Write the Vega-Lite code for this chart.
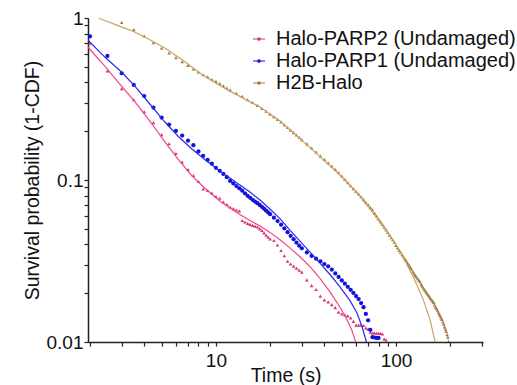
{
"$schema": "https://vega.github.io/schema/vega-lite/v6.json",
"width": 395, "height": 324,
"autosize": {"type": "none"},
"padding": {"left": 88, "top": 18, "right": 34, "bottom": 43},
"background": "white",
"config": {
  "font": "Liberation Sans",
  "view": {"stroke": null},
  "axis": {"grid": false, "domainColor": "#222", "domainWidth": 1.5, "tickColor": "#222", "tickSize": 4, "tickWidth": 1.2, "labelFont": "Liberation Sans", "labelFontSize": 19, "labelColor": "#111", "titleFont": "Liberation Sans", "titleFontSize": 19.5, "titleFontWeight": "normal", "titleColor": "#111", "labelOverlap": false}
},
"datasets": {
"fit": [
{"s":"Halo-PARP1 (Undamaged)","t":1.945,"y":0.731},{"s":"Halo-PARP1 (Undamaged)","t":2.417,"y":0.574},{"s":"Halo-PARP1 (Undamaged)","t":2.993,"y":0.464},{"s":"Halo-PARP1 (Undamaged)","t":3.548,"y":0.380},{"s":"Halo-PARP1 (Undamaged)","t":4.393,"y":0.2863},{"s":"Halo-PARP1 (Undamaged)","t":5.209,"y":0.228},{"s":"Halo-PARP1 (Undamaged)","t":6.151,"y":0.187},{"s":"Halo-PARP1 (Undamaged)","t":7.356,"y":0.1553},{"s":"Halo-PARP1 (Undamaged)","t":8.878,"y":0.1310},{"s":"Halo-PARP1 (Undamaged)","t":10.52,"y":0.1137},{"s":"Halo-PARP1 (Undamaged)","t":11.96,"y":0.1029},{"s":"Halo-PARP1 (Undamaged)","t":13.59,"y":0.0931},{"s":"Halo-PARP1 (Undamaged)","t":15.45,"y":0.0843},{"s":"Halo-PARP1 (Undamaged)","t":17.56,"y":0.0752},{"s":"Halo-PARP1 (Undamaged)","t":19.95,"y":0.0662},{"s":"Halo-PARP1 (Undamaged)","t":22.68,"y":0.0578},{"s":"Halo-PARP1 (Undamaged)","t":25.77,"y":0.0491},{"s":"Halo-PARP1 (Undamaged)","t":29.29,"y":0.0420},{"s":"Halo-PARP1 (Undamaged)","t":33.29,"y":0.0359},{"s":"Halo-PARP1 (Undamaged)","t":37.83,"y":0.0307},{"s":"Halo-PARP1 (Undamaged)","t":42.99,"y":0.0261},{"s":"Halo-PARP1 (Undamaged)","t":48.86,"y":0.0219},{"s":"Halo-PARP1 (Undamaged)","t":55.53,"y":0.0180},{"s":"Halo-PARP1 (Undamaged)","t":60.72,"y":0.0151},{"s":"Halo-PARP1 (Undamaged)","t":64.72,"y":0.01246},{"s":"Halo-PARP1 (Undamaged)","t":68.13,"y":0.01022},{"s":"Halo-PARP1 (Undamaged)","t":69.45,"y":0.00945},
{"s":"Halo-PARP2 (Undamaged)","t":1.945,"y":0.662},{"s":"Halo-PARP2 (Undamaged)","t":2.417,"y":0.505},{"s":"Halo-PARP2 (Undamaged)","t":2.993,"y":0.380},{"s":"Halo-PARP2 (Undamaged)","t":3.548,"y":0.305},{"s":"Halo-PARP2 (Undamaged)","t":4.393,"y":0.224},{"s":"Halo-PARP2 (Undamaged)","t":5.209,"y":0.172},{"s":"Halo-PARP2 (Undamaged)","t":6.151,"y":0.135},{"s":"Halo-PARP2 (Undamaged)","t":7.356,"y":0.106},{"s":"Halo-PARP2 (Undamaged)","t":8.878,"y":0.0870},{"s":"Halo-PARP2 (Undamaged)","t":10.52,"y":0.0742},{"s":"Halo-PARP2 (Undamaged)","t":11.96,"y":0.0672},{"s":"Halo-PARP2 (Undamaged)","t":13.59,"y":0.0612},{"s":"Halo-PARP2 (Undamaged)","t":15.45,"y":0.0563},{"s":"Halo-PARP2 (Undamaged)","t":17.56,"y":0.0520},{"s":"Halo-PARP2 (Undamaged)","t":19.95,"y":0.0475},{"s":"Halo-PARP2 (Undamaged)","t":22.68,"y":0.0428},{"s":"Halo-PARP2 (Undamaged)","t":25.77,"y":0.0381},{"s":"Halo-PARP2 (Undamaged)","t":29.29,"y":0.0336},{"s":"Halo-PARP2 (Undamaged)","t":33.29,"y":0.0292},{"s":"Halo-PARP2 (Undamaged)","t":37.83,"y":0.0247},{"s":"Halo-PARP2 (Undamaged)","t":42.99,"y":0.0204},{"s":"Halo-PARP2 (Undamaged)","t":48.86,"y":0.0164},{"s":"Halo-PARP2 (Undamaged)","t":52.75,"y":0.0141},{"s":"Halo-PARP2 (Undamaged)","t":56.74,"y":0.0119},{"s":"Halo-PARP2 (Undamaged)","t":59.19,"y":0.0103},{"s":"Halo-PARP2 (Undamaged)","t":61.5,"y":0.00918},
{"s":"H2B-Halo","t":2.239,"y":0.9957},{"s":"H2B-Halo","t":2.966,"y":0.885},{"s":"H2B-Halo","t":3.472,"y":0.828},{"s":"H2B-Halo","t":4.299,"y":0.735},{"s":"H2B-Halo","t":5.323,"y":0.643},{"s":"H2B-Halo","t":6.556,"y":0.548},{"s":"H2B-Halo","t":8.149,"y":0.458},{"s":"H2B-Halo","t":10,"y":0.396},{"s":"H2B-Halo","t":12.48,"y":0.345},{"s":"H2B-Halo","t":17.56,"y":0.282},{"s":"H2B-Halo","t":22.68,"y":0.231},{"s":"H2B-Halo","t":29.29,"y":0.180},{"s":"H2B-Halo","t":37.83,"y":0.1395},{"s":"H2B-Halo","t":48.86,"y":0.1074},{"s":"H2B-Halo","t":63.10,"y":0.0796},{"s":"H2B-Halo","t":81.49,"y":0.0550},{"s":"H2B-Halo","t":96.23,"y":0.0426},{"s":"H2B-Halo","t":105.2,"y":0.0365},{"s":"H2B-Halo","t":124.8,"y":0.0252},{"s":"H2B-Halo","t":141.8,"y":0.0182},{"s":"H2B-Halo","t":154.5,"y":0.0137},{"s":"H2B-Halo","t":164.7,"y":0.01004},{"s":"H2B-Halo","t":169.0,"y":0.00893}
],
"pts": [
{"s":"H2B-Halo","t":3,"y":0.938},{"s":"H2B-Halo","t":3.5,"y":0.847},{"s":"H2B-Halo","t":4,"y":0.774},{"s":"H2B-Halo","t":4.5,"y":0.703},{"s":"H2B-Halo","t":5,"y":0.650},{"s":"H2B-Halo","t":5.5,"y":0.608},{"s":"H2B-Halo","t":6,"y":0.569},{"s":"H2B-Halo","t":6.5,"y":0.537},{"s":"H2B-Halo","t":7,"y":0.510},{"s":"H2B-Halo","t":7.5,"y":0.484},{"s":"H2B-Halo","t":8,"y":0.464},{"s":"H2B-Halo","t":8.5,"y":0.446},{"s":"H2B-Halo","t":9,"y":0.432},{"s":"H2B-Halo","t":9.5,"y":0.417},{"s":"H2B-Halo","t":10,"y":0.406},{"s":"H2B-Halo","t":10.5,"y":0.394},{"s":"H2B-Halo","t":11,"y":0.382},{"s":"H2B-Halo","t":11.5,"y":0.370},{"s":"H2B-Halo","t":12,"y":0.360},{"s":"H2B-Halo","t":13,"y":0.343},{"s":"H2B-Halo","t":14,"y":0.328},{"s":"H2B-Halo","t":15,"y":0.313},{"s":"H2B-Halo","t":16,"y":0.301},{"s":"H2B-Halo","t":17,"y":0.289},{"s":"H2B-Halo","t":18,"y":0.2767},{"s":"H2B-Halo","t":19,"y":0.2655},{"s":"H2B-Halo","t":20,"y":0.255},{"s":"H2B-Halo","t":21,"y":0.2455},{"s":"H2B-Halo","t":22,"y":0.2369},{"s":"H2B-Halo","t":23,"y":0.2283},{"s":"H2B-Halo","t":24,"y":0.2195},{"s":"H2B-Halo","t":25,"y":0.2109},{"s":"H2B-Halo","t":26,"y":0.2032},{"s":"H2B-Halo","t":27,"y":0.1962},{"s":"H2B-Halo","t":28,"y":0.1896},{"s":"H2B-Halo","t":29,"y":0.1835},{"s":"H2B-Halo","t":30,"y":0.1776},{"s":"H2B-Halo","t":32,"y":0.1670},{"s":"H2B-Halo","t":34,"y":0.1575},{"s":"H2B-Halo","t":36,"y":0.1489},{"s":"H2B-Halo","t":38,"y":0.1409},{"s":"H2B-Halo","t":40,"y":0.1340},{"s":"H2B-Halo","t":42,"y":0.1275},{"s":"H2B-Halo","t":44,"y":0.1220},{"s":"H2B-Halo","t":46,"y":0.1164},{"s":"H2B-Halo","t":48,"y":0.1110},{"s":"H2B-Halo","t":50,"y":0.1058},{"s":"H2B-Halo","t":52,"y":0.1009},{"s":"H2B-Halo","t":54,"y":0.0964},{"s":"H2B-Halo","t":56,"y":0.0922},{"s":"H2B-Halo","t":58,"y":0.0885},{"s":"H2B-Halo","t":60,"y":0.0850},{"s":"H2B-Halo","t":62,"y":0.0820},{"s":"H2B-Halo","t":64,"y":0.0788},{"s":"H2B-Halo","t":66,"y":0.0757},{"s":"H2B-Halo","t":68,"y":0.0729},{"s":"H2B-Halo","t":70,"y":0.0703},{"s":"H2B-Halo","t":72,"y":0.0678},{"s":"H2B-Halo","t":74,"y":0.0655},{"s":"H2B-Halo","t":76,"y":0.0625},{"s":"H2B-Halo","t":78,"y":0.0599},{"s":"H2B-Halo","t":80,"y":0.0573},{"s":"H2B-Halo","t":82,"y":0.0553},{"s":"H2B-Halo","t":84,"y":0.0532},{"s":"H2B-Halo","t":86,"y":0.0511},{"s":"H2B-Halo","t":88,"y":0.0494},{"s":"H2B-Halo","t":90,"y":0.0475},{"s":"H2B-Halo","t":92,"y":0.0457},{"s":"H2B-Halo","t":94,"y":0.0440},{"s":"H2B-Halo","t":96,"y":0.0428},{"s":"H2B-Halo","t":98,"y":0.0411},{"s":"H2B-Halo","t":100,"y":0.0395},{"s":"H2B-Halo","t":102,"y":0.0381},{"s":"H2B-Halo","t":104,"y":0.0368},{"s":"H2B-Halo","t":106,"y":0.0358},{"s":"H2B-Halo","t":108,"y":0.0346},{"s":"H2B-Halo","t":110,"y":0.0336},{"s":"H2B-Halo","t":112,"y":0.0326},{"s":"H2B-Halo","t":114,"y":0.0317},{"s":"H2B-Halo","t":116,"y":0.0307},{"s":"H2B-Halo","t":118,"y":0.0298},{"s":"H2B-Halo","t":120,"y":0.0289},{"s":"H2B-Halo","t":122,"y":0.0281},{"s":"H2B-Halo","t":124,"y":0.0272},{"s":"H2B-Halo","t":126,"y":0.0264},{"s":"H2B-Halo","t":128,"y":0.0258},{"s":"H2B-Halo","t":130,"y":0.0252},{"s":"H2B-Halo","t":132,"y":0.0246},{"s":"H2B-Halo","t":134,"y":0.0240},{"s":"H2B-Halo","t":136,"y":0.0235},{"s":"H2B-Halo","t":138,"y":0.0227},{"s":"H2B-Halo","t":140,"y":0.0221},{"s":"H2B-Halo","t":142,"y":0.0215},{"s":"H2B-Halo","t":144,"y":0.0210},{"s":"H2B-Halo","t":146,"y":0.0206},{"s":"H2B-Halo","t":148,"y":0.0201},{"s":"H2B-Halo","t":150,"y":0.0197},{"s":"H2B-Halo","t":152,"y":0.0193},{"s":"H2B-Halo","t":154,"y":0.0189},{"s":"H2B-Halo","t":156,"y":0.0185},{"s":"H2B-Halo","t":158,"y":0.0182},{"s":"H2B-Halo","t":160,"y":0.0178},{"s":"H2B-Halo","t":162,"y":0.0175},{"s":"H2B-Halo","t":164,"y":0.0169},{"s":"H2B-Halo","t":166,"y":0.0164},{"s":"H2B-Halo","t":168,"y":0.0161},{"s":"H2B-Halo","t":170,"y":0.0157},{"s":"H2B-Halo","t":172,"y":0.0152},{"s":"H2B-Halo","t":174,"y":0.0148},{"s":"H2B-Halo","t":176,"y":0.0145},{"s":"H2B-Halo","t":178,"y":0.0141},{"s":"H2B-Halo","t":180,"y":0.0138},{"s":"H2B-Halo","t":182,"y":0.0133},{"s":"H2B-Halo","t":184,"y":0.0129},{"s":"H2B-Halo","t":186,"y":0.0124},{"s":"H2B-Halo","t":188,"y":0.0120},{"s":"H2B-Halo","t":190,"y":0.0116},{"s":"H2B-Halo","t":192,"y":0.0111},{"s":"H2B-Halo","t":194,"y":0.0107},{"s":"H2B-Halo","t":196,"y":0.0101},
{"s":"Halo-PARP2 (Undamaged)","t":2,"y":0.698},{"s":"Halo-PARP2 (Undamaged)","t":2.5,"y":0.471},{"s":"Halo-PARP2 (Undamaged)","t":3,"y":0.366},{"s":"Halo-PARP2 (Undamaged)","t":3.5,"y":0.313},{"s":"Halo-PARP2 (Undamaged)","t":4,"y":0.264},{"s":"Halo-PARP2 (Undamaged)","t":4.5,"y":0.226},{"s":"Halo-PARP2 (Undamaged)","t":5,"y":0.1905},{"s":"Halo-PARP2 (Undamaged)","t":5.5,"y":0.1675},{"s":"Halo-PARP2 (Undamaged)","t":6,"y":0.1457},{"s":"Halo-PARP2 (Undamaged)","t":6.5,"y":0.1292},{"s":"Halo-PARP2 (Undamaged)","t":7,"y":0.1161},{"s":"Halo-PARP2 (Undamaged)","t":7.5,"y":0.1066},{"s":"Halo-PARP2 (Undamaged)","t":8,"y":0.0979},{"s":"Halo-PARP2 (Undamaged)","t":8.5,"y":0.0880},{"s":"Halo-PARP2 (Undamaged)","t":9,"y":0.0861},{"s":"Halo-PARP2 (Undamaged)","t":9.5,"y":0.0831},{"s":"Halo-PARP2 (Undamaged)","t":10,"y":0.0791},{"s":"Halo-PARP2 (Undamaged)","t":10.5,"y":0.0771},{"s":"Halo-PARP2 (Undamaged)","t":11,"y":0.0731},{"s":"Halo-PARP2 (Undamaged)","t":11.5,"y":0.0706},{"s":"Halo-PARP2 (Undamaged)","t":12,"y":0.0681},{"s":"Halo-PARP2 (Undamaged)","t":12.5,"y":0.0667},{"s":"Halo-PARP2 (Undamaged)","t":13,"y":0.0653},{"s":"Halo-PARP2 (Undamaged)","t":13.5,"y":0.0645},{"s":"Halo-PARP2 (Undamaged)","t":14,"y":0.0562},{"s":"Halo-PARP2 (Undamaged)","t":14.5,"y":0.0550},{"s":"Halo-PARP2 (Undamaged)","t":15,"y":0.0540},{"s":"Halo-PARP2 (Undamaged)","t":15.5,"y":0.0532},{"s":"Halo-PARP2 (Undamaged)","t":16,"y":0.0525},{"s":"Halo-PARP2 (Undamaged)","t":16.5,"y":0.0519},{"s":"Halo-PARP2 (Undamaged)","t":17,"y":0.0513},{"s":"Halo-PARP2 (Undamaged)","t":17.5,"y":0.0501},{"s":"Halo-PARP2 (Undamaged)","t":18,"y":0.0489},{"s":"Halo-PARP2 (Undamaged)","t":18.5,"y":0.0472},{"s":"Halo-PARP2 (Undamaged)","t":19,"y":0.0456},{"s":"Halo-PARP2 (Undamaged)","t":19.5,"y":0.0444},{"s":"Halo-PARP2 (Undamaged)","t":20,"y":0.0432},{"s":"Halo-PARP2 (Undamaged)","t":21,"y":0.0423},{"s":"Halo-PARP2 (Undamaged)","t":22,"y":0.0397},{"s":"Halo-PARP2 (Undamaged)","t":23,"y":0.0367},{"s":"Halo-PARP2 (Undamaged)","t":24,"y":0.0341},{"s":"Halo-PARP2 (Undamaged)","t":25,"y":0.0315},{"s":"Halo-PARP2 (Undamaged)","t":26,"y":0.0303},{"s":"Halo-PARP2 (Undamaged)","t":27,"y":0.0294},{"s":"Halo-PARP2 (Undamaged)","t":28,"y":0.0286},{"s":"Halo-PARP2 (Undamaged)","t":29,"y":0.0278},{"s":"Halo-PARP2 (Undamaged)","t":30,"y":0.0270},{"s":"Halo-PARP2 (Undamaged)","t":32,"y":0.0242},{"s":"Halo-PARP2 (Undamaged)","t":34,"y":0.0223},{"s":"Halo-PARP2 (Undamaged)","t":36,"y":0.0211},{"s":"Halo-PARP2 (Undamaged)","t":38,"y":0.0192},{"s":"Halo-PARP2 (Undamaged)","t":40,"y":0.0182},{"s":"Halo-PARP2 (Undamaged)","t":42,"y":0.0177},{"s":"Halo-PARP2 (Undamaged)","t":44,"y":0.0170},{"s":"Halo-PARP2 (Undamaged)","t":46,"y":0.0163},{"s":"Halo-PARP2 (Undamaged)","t":48,"y":0.0153},{"s":"Halo-PARP2 (Undamaged)","t":50,"y":0.0149},{"s":"Halo-PARP2 (Undamaged)","t":52,"y":0.0147},{"s":"Halo-PARP2 (Undamaged)","t":54,"y":0.0145},{"s":"Halo-PARP2 (Undamaged)","t":56,"y":0.0141},{"s":"Halo-PARP2 (Undamaged)","t":58,"y":0.0134},{"s":"Halo-PARP2 (Undamaged)","t":60,"y":0.0127},{"s":"Halo-PARP2 (Undamaged)","t":62,"y":0.0127},{"s":"Halo-PARP2 (Undamaged)","t":64,"y":0.0127},{"s":"Halo-PARP2 (Undamaged)","t":66,"y":0.01264},{"s":"Halo-PARP2 (Undamaged)","t":68,"y":0.0122},{"s":"Halo-PARP2 (Undamaged)","t":70,"y":0.0120},{"s":"Halo-PARP2 (Undamaged)","t":72,"y":0.0115},{"s":"Halo-PARP2 (Undamaged)","t":74,"y":0.01137},{"s":"Halo-PARP2 (Undamaged)","t":76,"y":0.01137},{"s":"Halo-PARP2 (Undamaged)","t":78,"y":0.01132},{"s":"Halo-PARP2 (Undamaged)","t":80,"y":0.01132},{"s":"Halo-PARP2 (Undamaged)","t":82,"y":0.01129},{"s":"Halo-PARP2 (Undamaged)","t":84,"y":0.0112},{"s":"Halo-PARP2 (Undamaged)","t":86,"y":0.01043},{"s":"Halo-PARP2 (Undamaged)","t":88,"y":0.0103},
{"s":"Halo-PARP1 (Undamaged)","t":2,"y":0.771},{"s":"Halo-PARP1 (Undamaged)","t":2.5,"y":0.583},{"s":"Halo-PARP1 (Undamaged)","t":3,"y":0.456},{"s":"Halo-PARP1 (Undamaged)","t":3.5,"y":0.386},{"s":"Halo-PARP1 (Undamaged)","t":4,"y":0.330},{"s":"Halo-PARP1 (Undamaged)","t":4.5,"y":0.280},{"s":"Halo-PARP1 (Undamaged)","t":5,"y":0.243},{"s":"Halo-PARP1 (Undamaged)","t":5.5,"y":0.220},{"s":"Halo-PARP1 (Undamaged)","t":6,"y":0.201},{"s":"Halo-PARP1 (Undamaged)","t":6.5,"y":0.188},{"s":"Halo-PARP1 (Undamaged)","t":7,"y":0.175},{"s":"Halo-PARP1 (Undamaged)","t":7.5,"y":0.164},{"s":"Halo-PARP1 (Undamaged)","t":8,"y":0.150},{"s":"Halo-PARP1 (Undamaged)","t":8.5,"y":0.141},{"s":"Halo-PARP1 (Undamaged)","t":9,"y":0.133},{"s":"Halo-PARP1 (Undamaged)","t":9.5,"y":0.126},{"s":"Halo-PARP1 (Undamaged)","t":10,"y":0.119},{"s":"Halo-PARP1 (Undamaged)","t":10.5,"y":0.114},{"s":"Halo-PARP1 (Undamaged)","t":11,"y":0.109},{"s":"Halo-PARP1 (Undamaged)","t":11.5,"y":0.104},{"s":"Halo-PARP1 (Undamaged)","t":12,"y":0.0987},{"s":"Halo-PARP1 (Undamaged)","t":12.5,"y":0.0952},{"s":"Halo-PARP1 (Undamaged)","t":13,"y":0.0918},{"s":"Halo-PARP1 (Undamaged)","t":13.5,"y":0.0888},{"s":"Halo-PARP1 (Undamaged)","t":14,"y":0.0859},{"s":"Halo-PARP1 (Undamaged)","t":14.5,"y":0.0828},{"s":"Halo-PARP1 (Undamaged)","t":15,"y":0.0799},{"s":"Halo-PARP1 (Undamaged)","t":15.5,"y":0.0776},{"s":"Halo-PARP1 (Undamaged)","t":16,"y":0.0754},{"s":"Halo-PARP1 (Undamaged)","t":16.5,"y":0.0736},{"s":"Halo-PARP1 (Undamaged)","t":17,"y":0.0719},{"s":"Halo-PARP1 (Undamaged)","t":17.5,"y":0.0701},{"s":"Halo-PARP1 (Undamaged)","t":18,"y":0.0683},{"s":"Halo-PARP1 (Undamaged)","t":18.5,"y":0.0665},{"s":"Halo-PARP1 (Undamaged)","t":19,"y":0.0647},{"s":"Halo-PARP1 (Undamaged)","t":19.5,"y":0.0631},{"s":"Halo-PARP1 (Undamaged)","t":20,"y":0.0615},{"s":"Halo-PARP1 (Undamaged)","t":21,"y":0.0585},{"s":"Halo-PARP1 (Undamaged)","t":22,"y":0.0558},{"s":"Halo-PARP1 (Undamaged)","t":23,"y":0.0530},{"s":"Halo-PARP1 (Undamaged)","t":24,"y":0.0503},{"s":"Halo-PARP1 (Undamaged)","t":25,"y":0.0476},{"s":"Halo-PARP1 (Undamaged)","t":26,"y":0.0452},{"s":"Halo-PARP1 (Undamaged)","t":27,"y":0.0431},{"s":"Halo-PARP1 (Undamaged)","t":28,"y":0.0411},{"s":"Halo-PARP1 (Undamaged)","t":29,"y":0.0393},{"s":"Halo-PARP1 (Undamaged)","t":30,"y":0.0379},{"s":"Halo-PARP1 (Undamaged)","t":32,"y":0.0357},{"s":"Halo-PARP1 (Undamaged)","t":34,"y":0.0340},{"s":"Halo-PARP1 (Undamaged)","t":36,"y":0.0327},{"s":"Halo-PARP1 (Undamaged)","t":38,"y":0.0315},{"s":"Halo-PARP1 (Undamaged)","t":40,"y":0.0303},{"s":"Halo-PARP1 (Undamaged)","t":42,"y":0.0293},{"s":"Halo-PARP1 (Undamaged)","t":44,"y":0.0280},{"s":"Halo-PARP1 (Undamaged)","t":46,"y":0.0265},{"s":"Halo-PARP1 (Undamaged)","t":48,"y":0.0252},{"s":"Halo-PARP1 (Undamaged)","t":50,"y":0.0240},{"s":"Halo-PARP1 (Undamaged)","t":52,"y":0.0229},{"s":"Halo-PARP1 (Undamaged)","t":54,"y":0.0219},{"s":"Halo-PARP1 (Undamaged)","t":56,"y":0.0210},{"s":"Halo-PARP1 (Undamaged)","t":58,"y":0.0201},{"s":"Halo-PARP1 (Undamaged)","t":60,"y":0.0192},{"s":"Halo-PARP1 (Undamaged)","t":62,"y":0.0184},{"s":"Halo-PARP1 (Undamaged)","t":64,"y":0.0174},{"s":"Halo-PARP1 (Undamaged)","t":66,"y":0.0164},{"s":"Halo-PARP1 (Undamaged)","t":68,"y":0.0149},{"s":"Halo-PARP1 (Undamaged)","t":70,"y":0.0136},{"s":"Halo-PARP1 (Undamaged)","t":72,"y":0.0119},{"s":"Halo-PARP1 (Undamaged)","t":74,"y":0.0107},{"s":"Halo-PARP1 (Undamaged)","t":76,"y":0.01066},{"s":"Halo-PARP1 (Undamaged)","t":78,"y":0.0106},{"s":"Halo-PARP1 (Undamaged)","t":80,"y":0.0106}
]
},
"encoding": {
  "x": {"field": "t", "type": "quantitative", "scale": {"type": "log", "domain": [1.95, 304], "nice": false},
        "axis": {"title": "Time (s)", "values": [2,3,4,5,6,7,8,9,10,20,30,40,50,60,70,80,90,100,200,300],
                 "labelExpr": "datum.value == 10 || datum.value == 100 ? toString(datum.value) : ''",
                 "labelPadding": 5, "titlePadding": -4, "labelFlush": false}},
  "y": {"field": "y", "type": "quantitative", "scale": {"type": "log", "domain": [0.01, 1], "nice": false},
        "axis": {"title": "Survival probability (1-CDF)", "values": [0.01,0.02,0.03,0.04,0.05,0.06,0.07,0.08,0.09,0.1,0.2,0.3,0.4,0.5,0.6,0.7,0.8,0.9,1],
                 "labelExpr": "datum.value == 0.01 || datum.value == 0.1 || datum.value == 1 ? toString(datum.value) : ''",
                 "labelPadding": 1, "titlePadding": 4}},
  "fill": {"field": "s", "type": "nominal",
           "scale": {"domain": ["Halo-PARP2 (Undamaged)", "Halo-PARP1 (Undamaged)", "H2B-Halo"], "range": ["#d63276", "#1212dc", "#a07c46"]},
           "legend": {"title": null, "orient": "none", "legendX": 161, "legendY": 11, "padding": 0,
                      "symbolType": "M-1,-0.09H1V0.09H-1Z M-0.3,0A0.3,0.3 0 1 1 0.3,0A0.3,0.3 0 1 1 -0.3,0Z",
                      "symbolSize": 144, "symbolStrokeWidth": 0, "symbolOpacity": 1,
                      "labelFontSize": 20, "labelFont": "Liberation Sans", "labelColor": "#111", "labelOffset": 7, "rowPadding": 2, "labelLimit": 400}}
},
"layer": [
  {"data": {"name": "pts"}, "transform": [{"filter": "datum.s == 'H2B-Halo'"}],
   "mark": {"type": "point", "shape": "triangle-up", "size": 13, "filled": true, "opacity": 1, "strokeWidth": 0, "clip": true}},
  {"data": {"name": "pts"}, "transform": [{"filter": "datum.s == 'Halo-PARP2 (Undamaged)'"}],
   "mark": {"type": "point", "shape": "triangle-up", "size": 13, "filled": true, "opacity": 1, "strokeWidth": 0, "clip": true}},
  {"data": {"name": "pts"}, "transform": [{"filter": "datum.s == 'Halo-PARP1 (Undamaged)'"}],
   "mark": {"type": "point", "shape": "circle", "size": 18, "filled": true, "opacity": 1, "strokeWidth": 0, "clip": true}},
  {"data": {"name": "fit"},
   "mark": {"type": "line", "strokeWidth": 1.2, "clip": true},
   "encoding": {
     "fill": {"value": null},
     "stroke": {"field": "s", "type": "nominal",
                "scale": {"domain": ["Halo-PARP2 (Undamaged)", "Halo-PARP1 (Undamaged)", "H2B-Halo"], "range": ["#f0428e", "#2a2ae8", "#caa266"]},
                "legend": null}
   }}
]
}
